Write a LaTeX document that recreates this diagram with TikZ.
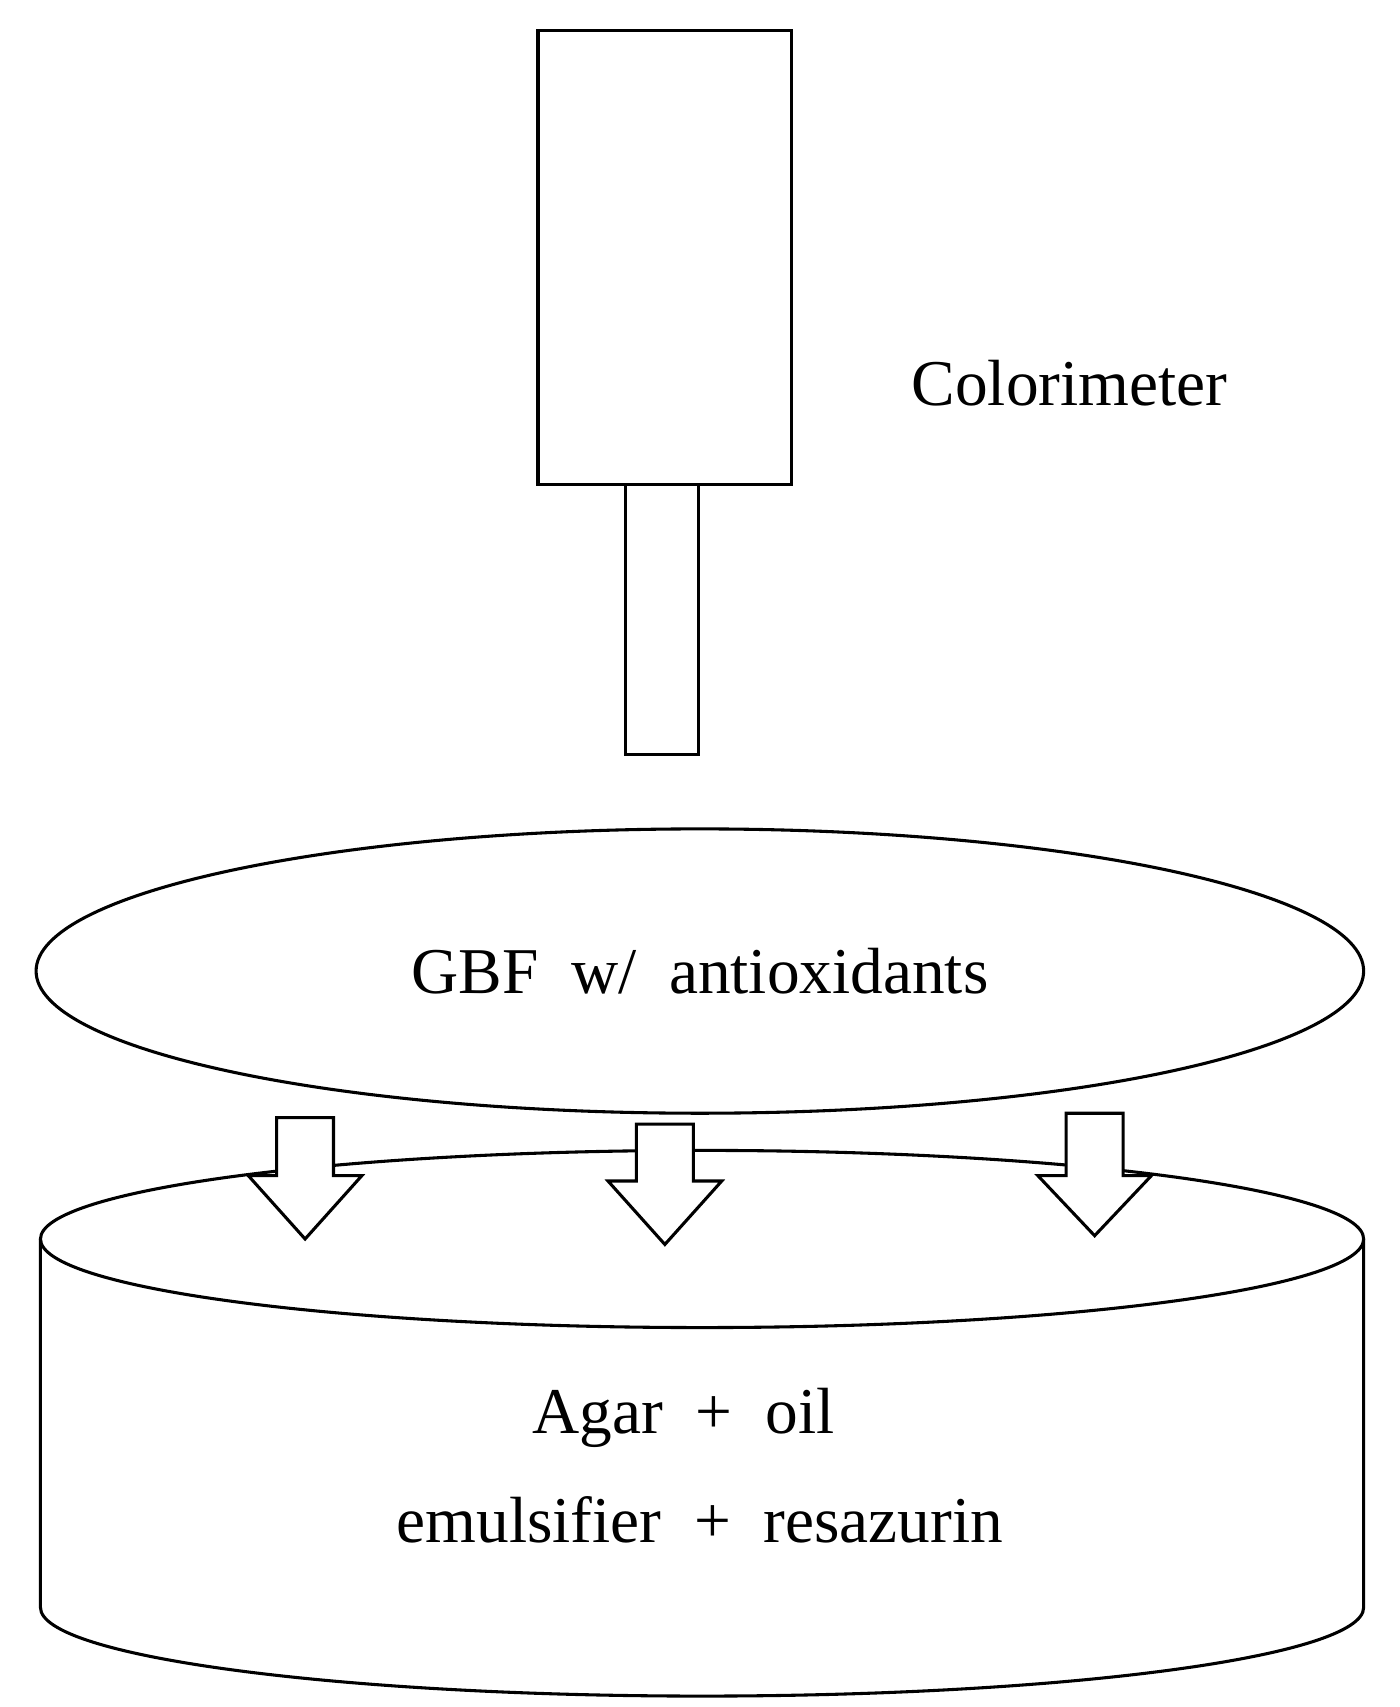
\documentclass[tikz,border=0pt]{standalone}
\usepackage{fontspec}
\setmainfont{Liberation Serif}
\begin{document}
\begin{tikzpicture}[x=0.02cm,y=-0.02cm,line width=1.6pt,
  lbl/.style={font=\fontsize{34}{40}\selectfont,inner sep=0},
  blockarrow/.style={draw,fill=white,line join=miter}]
\useasboundingbox (0,0) rectangle (1280,1561);
% colorimeter
\draw (492,28) rectangle (724,443);
\draw (572,443) rectangle (639,690);
\node[lbl] (col) at (978,350) {Colorimeter};
% top ellipse
\draw (640,888) ellipse [x radius=607, y radius=130];
\node[lbl] (gbf) at (640,888) {GBF\ \ w/\ \ antioxidants};
% cylinder
\draw (642,1133) ellipse [x radius=605, y radius=81];
\draw (37,1133) -- (37,1470) arc[start angle=180,end angle=0,x radius=605,y radius=81] -- (1247,1133);
\node[lbl] (agar) at (625,1297) {Agar\ \ +\ \ oil};
\node[lbl] (emu) at (640,1390) {emulsifier\ \ +\ \ resazurin};
% arrows
\foreach \cx/\top/\hy/\tip in {279/1022/1075/1133, 608/1028/1080/1138, 1001/1018/1075/1130}{
  \draw[blockarrow] (\cx-26,\top) -- (\cx+26,\top) -- (\cx+26,\hy) -- (\cx+52,\hy) -- (\cx,\tip) -- (\cx-52,\hy) -- (\cx-26,\hy) -- cycle;
}
\end{tikzpicture}
\end{document}
